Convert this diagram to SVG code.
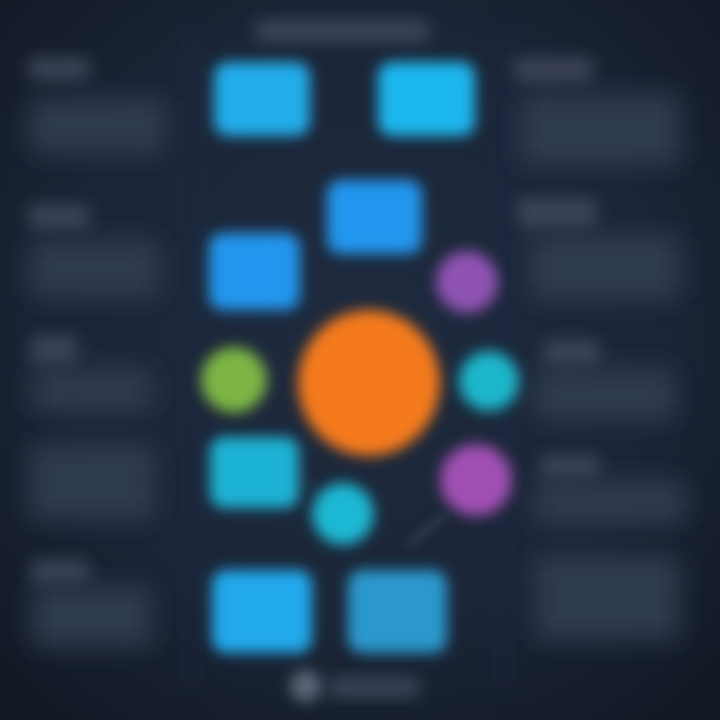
<svg xmlns="http://www.w3.org/2000/svg" width="720" height="720" viewBox="0 0 720 720">
<defs>
<radialGradient id="bg" cx="50%" cy="45%" r="70%">
<stop offset="0" stop-color="#1e2a3e"/>
<stop offset="0.6" stop-color="#1b2537"/>
<stop offset="1" stop-color="#121925"/>
</radialGradient>
<filter id="b8" x="-50%" y="-50%" width="200%" height="200%"><feGaussianBlur stdDeviation="8"/></filter>
<filter id="b7" x="-50%" y="-50%" width="200%" height="200%"><feGaussianBlur stdDeviation="7"/></filter>
<filter id="b12" x="-50%" y="-50%" width="200%" height="200%"><feGaussianBlur stdDeviation="12"/></filter>
<filter id="b5" x="-50%" y="-50%" width="200%" height="200%"><feGaussianBlur stdDeviation="5"/></filter>
</defs>
<style>
.blk{fill:#2f3b4e;filter:url(#b12)}
.hdr{fill:#3a4557;filter:url(#b8)}
.node{filter:url(#b7)}
.con{stroke:#333f4f;stroke-width:6;fill:none;filter:url(#b5)}
</style>
<rect width="720" height="720" fill="url(#bg)"/>
<!-- faint column dividers -->
<rect x="185" y="30" width="12" height="660" fill="#1f2c44" filter="url(#b12)" opacity="0.6"/>
<rect x="498" y="30" width="12" height="660" fill="#1f2c44" filter="url(#b12)" opacity="0.6"/>
<!-- title bar -->
<rect x="255" y="20" width="175" height="22" rx="8" class="hdr"/>
<!-- left column text blocks -->
<g id="left-panels">
<rect x="28" y="58" width="62" height="22" rx="8" class="hdr"/>
<rect x="30" y="98" width="135" height="56" rx="8" class="blk"/>
<rect x="28" y="205" width="62" height="24" rx="8" class="hdr"/>
<rect x="30" y="240" width="130" height="58" rx="8" class="blk"/>
<rect x="30" y="336" width="48" height="28" rx="8" class="hdr"/>
<rect x="32" y="368" width="120" height="44" rx="8" class="blk"/>
<rect x="30" y="444" width="125" height="76" rx="8" class="blk"/>
<rect x="30" y="560" width="60" height="24" rx="8" class="hdr"/>
<rect x="32" y="585" width="120" height="62" rx="8" class="blk"/>
</g>
<!-- right column text blocks -->
<g id="right-panels">
<rect x="514" y="58" width="80" height="24" rx="8" class="hdr"/>
<rect x="520" y="94" width="160" height="72" rx="8" class="blk"/>
<rect x="517" y="198" width="80" height="30" rx="8" class="hdr"/>
<rect x="530" y="234" width="150" height="66" rx="8" class="blk"/>
<rect x="543" y="340" width="57" height="26" rx="8" class="hdr"/>
<rect x="535" y="368" width="140" height="52" rx="8" class="blk"/>
<rect x="540" y="455" width="60" height="24" rx="8" class="hdr"/>
<rect x="535" y="480" width="150" height="45" rx="8" class="blk"/>
<rect x="535" y="555" width="145" height="85" rx="8" class="blk"/>
</g>
<!-- connectors -->
<g id="connectors">
<line x1="408" y1="545" x2="445" y2="515" class="con"/>
<line x1="300" y1="470" x2="318" y2="495" class="con" opacity="0.4"/>
</g>
<!-- nodes -->
<g id="node-top-left"><rect x="214" y="62" width="96" height="74" rx="14" fill="#22acea" class="node"/></g>
<g id="node-top-right"><rect x="378" y="62" width="97" height="74" rx="14" fill="#1fb6ee" class="node"/></g>
<g id="node-mid"><rect x="327" y="180" width="95" height="74" rx="14" fill="#2196ee" class="node"/></g>
<g id="node-left"><rect x="209" y="233" width="91" height="77" rx="14" fill="#2196ee" class="node"/></g>
<g id="node-purple-top"><circle cx="467" cy="282" r="31" fill="#8e52b2" class="node"/></g>
<g id="node-green"><circle cx="234" cy="380" r="33" fill="#7db544" class="node"/></g>
<g id="node-center"><ellipse cx="369" cy="383" rx="71" ry="73" fill="#f47a1f" class="node"/></g>
<g id="node-cyan-right"><circle cx="489" cy="381" r="30" fill="#1ab6cb" class="node"/></g>
<g id="node-teal"><rect x="210" y="437" width="89" height="71" rx="14" fill="#1fb2d4" class="node"/></g>
<g id="node-purple-low"><circle cx="476" cy="480" r="36" fill="#a04fb3" class="node"/></g>
<g id="node-cyan-small"><circle cx="343" cy="514" r="31" fill="#1cb8d3" class="node"/></g>
<g id="node-bottom-left"><rect x="212" y="570" width="100" height="83" rx="14" fill="#20a9ec" class="node"/></g>
<g id="node-bottom-right"><rect x="348" y="570" width="99" height="83" rx="14" fill="#2a98cc" class="node"/></g>
<!-- footer -->
<g id="footer">
<circle cx="306" cy="686" r="16" fill="#5a6474" filter="url(#b7)"/>
<rect x="328" y="677" width="92" height="20" rx="8" class="hdr"/>
</g>
</svg>
